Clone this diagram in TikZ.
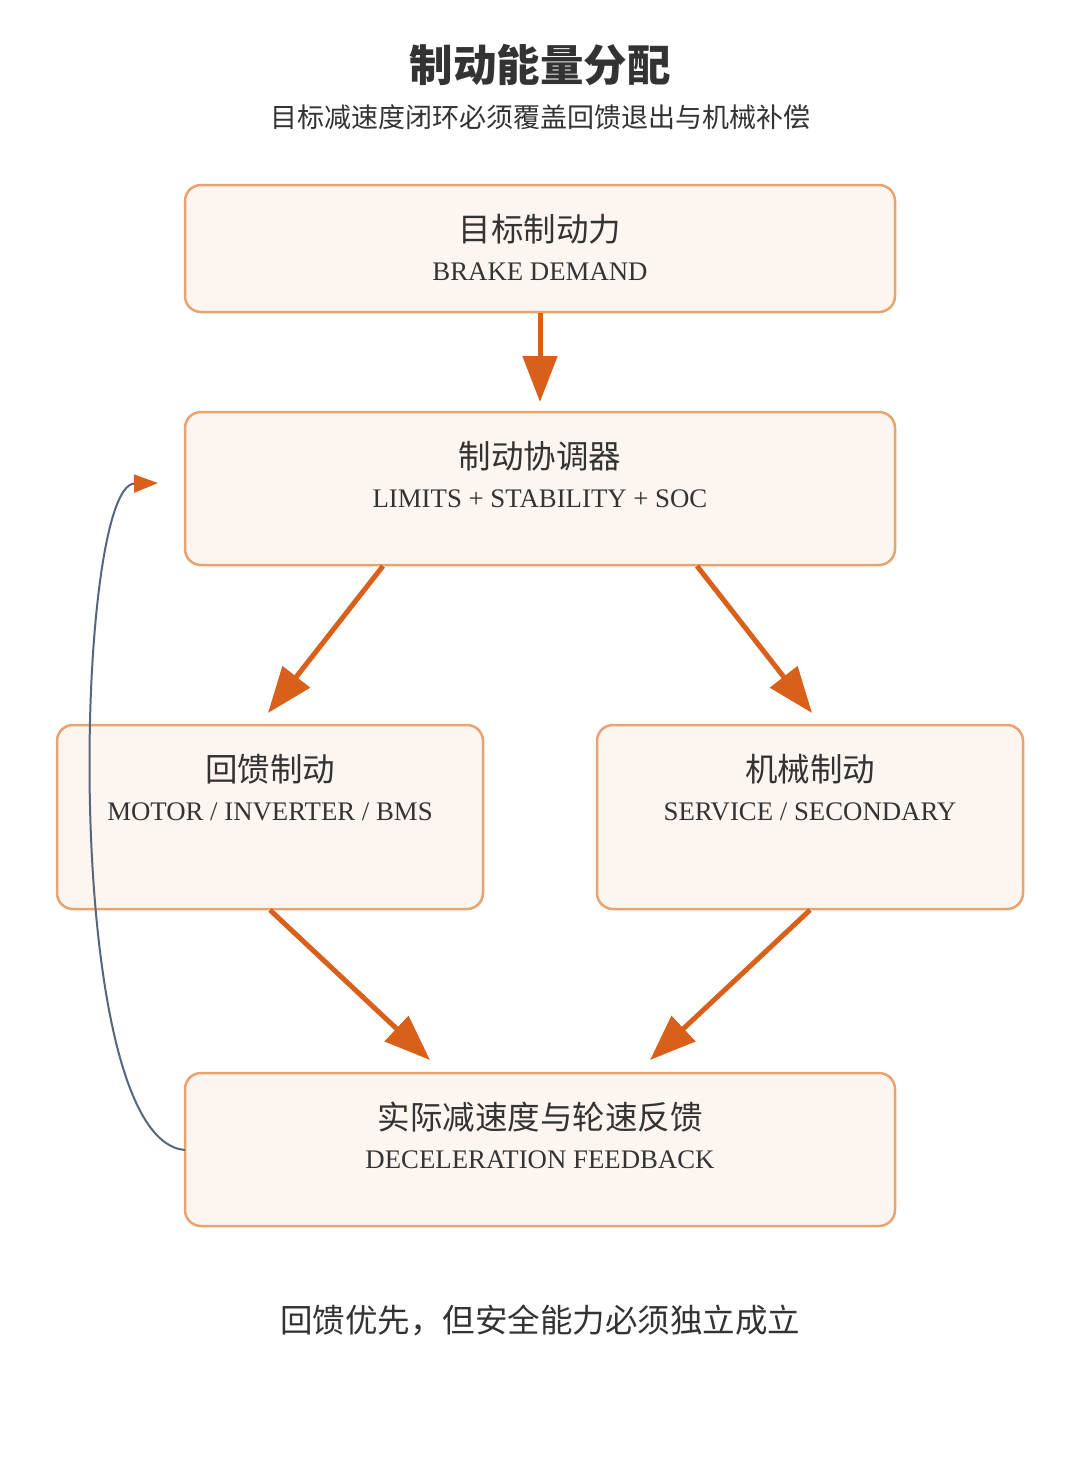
\documentclass[tikz,border=0pt]{standalone}
\usepackage{fontspec}
\setmainfont{Liberation Serif}
\newfontfamily\cjk{Noto Sans CJK SC}
\usetikzlibrary{arrows.meta}
\definecolor{boxfill}{HTML}{FDF5F0}
\definecolor{boxline}{HTML}{E9A36E}
\definecolor{arr}{HTML}{D9601A}
\definecolor{fb}{HTML}{56677D}
\definecolor{txt}{HTML}{333333}
\tikzset{
  card/.style={draw=boxline, fill=boxfill, line width=2.5pt, rounded corners=16pt},
  cardtitle/.style={text=txt, font=\cjk\fontsize{32.5}{36}\selectfont},
  cardsub/.style={text=txt, font=\fontsize{26.8}{30}\selectfont},
  flow/.style={draw=arr, line width=5pt, -{Triangle[length=46pt,width=34pt]}},
  feedback/.style={draw=fb, line width=2pt, -{Triangle[length=24pt,width=18pt,color=arr]}}
}
\begin{document}
\begin{tikzpicture}[x=1pt,y=-1pt]
\useasboundingbox (0,0) rectangle (1080,1478);
\fill[white] (0,0) rectangle (1080,1478);
% title
\node[text=txt, font=\cjk\bfseries\fontsize{43.5}{48}\selectfont] (title) at (540,65) {制动能量分配};
\node[text=txt, font=\cjk\fontsize{27}{30}\selectfont] (subtitle) at (540,117) {目标减速度闭环必须覆盖回馈退出与机械补偿};
% boxes
\path[card] (185,185) rectangle (895,312);
\path[card] (185,412) rectangle (895,565);
\path[card] (57,725) rectangle (483,909);
\path[card] (597,725) rectangle (1023,909);
\path[card] (185,1073) rectangle (895,1226);
% texts
\node[cardtitle] (t1) at (540,229) {目标制动力};
\node[cardsub] (s1) at (540,272) {BRAKE DEMAND};
\node[cardtitle] (t2) at (540,456) {制动协调器};
\node[cardsub] (s2) at (540,499) {LIMITS + STABILITY + SOC};
\node[cardtitle] (t3) at (270,769) {回馈制动};
\node[cardsub] (s3) at (270,812) {MOTOR / INVERTER / BMS};
\node[cardtitle] (t4) at (810,769) {机械制动};
\node[cardsub] (s4) at (810,812) {SERVICE / SECONDARY};
\node[cardtitle] (t5) at (540,1117) {实际减速度与轮速反馈};
\node[cardsub] (s5) at (540,1160) {DECELERATION FEEDBACK};
% anchor coordinates
\coordinate (a1s) at (540,313);
\coordinate (a1e) at (540,402);
\coordinate (a2s) at (383,566);
\coordinate (a2e) at (268,713);
\coordinate (a3s) at (697,566);
\coordinate (a3e) at (812,713);
\coordinate (a4s) at (270,910);
\coordinate (a4e) at (430,1060);
\coordinate (a5s) at (810,910);
\coordinate (a5e) at (650,1060);
\coordinate (fs) at (185,1150);
\coordinate (fe) at (158,483);
% connectors
\draw[flow] (a1s) -- (a1e);
\draw[flow] (a2s) -- (a2e);
\draw[flow] (a3s) -- (a3e);
\draw[flow] (a4s) -- (a4e);
\draw[flow] (a5s) -- (a5e);
\draw[feedback] (fs) .. controls (60,1140) and (74,485) .. (fe);
% footer
\node[text=txt, font=\cjk\fontsize{32.5}{36}\selectfont] (footer) at (540,1320) {回馈优先，但安全能力必须独立成立};
\end{tikzpicture}
\end{document}
